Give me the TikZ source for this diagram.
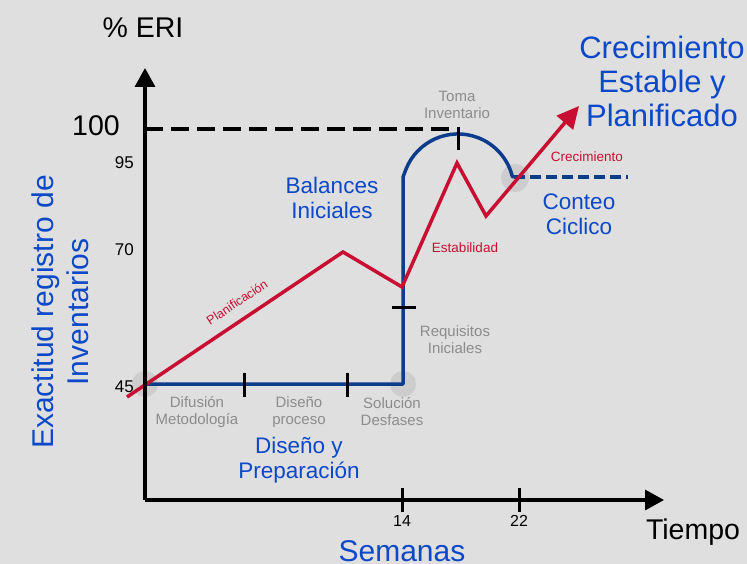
\documentclass[tikz,border=0pt]{standalone}
\usepackage{fontspec}
\setmainfont{Liberation Sans}
\usetikzlibrary{arrows.meta}
\definecolor{slidebg}{RGB}{223,223,223}
\definecolor{spot}{RGB}{205,205,205}
\definecolor{titleblue}{RGB}{12,72,200}
\definecolor{lineblue}{RGB}{14,60,140}
\definecolor{trendred}{RGB}{200,14,50}
\definecolor{notegray}{RGB}{140,140,140}
\begin{document}
\begin{tikzpicture}[x=1pt,y=-1pt,
  axis/.style={line width=3.5pt,-{Triangle[length=19pt,width=20pt]}},
  tick/.style={line width=3pt},
  note/.style={text=notegray,align=center,font=\fontsize{15}{17}\selectfont},
  phase/.style={text=titleblue,align=center,font=\fontsize{22.5}{25}\selectfont},
  trend/.style={text=trendred,font=\fontsize{13.5}{15}\selectfont},
  val/.style={anchor=east,inner sep=0pt,font=\fontsize{17}{19}\selectfont}]
  \fill[slidebg] (0,0) rectangle (747,564);
  \useasboundingbox (0,0) rectangle (747,564);

  %highlights
  \fill[spot] (145,384) circle (13pt) (403,384) circle (13pt) (515,178) circle (14pt);

  %100 line
  \draw[line width=3.5pt,dash pattern=on 18pt off 8pt] (145,129) -- (458,129);

  %blue path
  \coordinate (b45) at (145,384);
  \coordinate (b14) at (403,384);
  \coordinate (bup) at (403,177);
  \coordinate (bend) at (514,177);
  \coordinate (bdash) at (628,177);
  \draw[lineblue,line width=3.5pt,line join=round] (b45) -- (b14) -- (bup) -- (405.7,169.9)
    arc[start angle=159,end angle=14,radius=56pt] -- (bend);
  \draw[lineblue,line width=3.5pt,dash pattern=on 11pt off 5pt] (bend) -- (bdash);

  %ticks
  \draw[tick] (244,373) -- (244,397);
  \draw[tick] (347,373) -- (347,397);
  \draw[tick] (392,307) -- (416,307);
  \draw[tick] (458,127) -- (458,150);

  %red curve
  \coordinate (start) at (127,397);
  \coordinate (plan) at (343,252);
  \coordinate (req) at (402,287);
  \coordinate (toma) at (457,163);
  \coordinate (dip) at (486,216);
  \coordinate (goal) at (579,106);
  \draw[trendred,line width=3.5pt,-{Triangle[length=22pt,width=21pt]}]
    (start) -- (plan) -- (req) -- (toma) -- (dip) -- (goal);

  %axes
  \coordinate (O) at (145,500);
  \coordinate (ytop) at (145,68);
  \coordinate (xend) at (664,500);
  \draw[axis] (O) -- (ytop);
  \draw[axis] (O) -- (xend);
  \foreach \x/\w in {402/14,519/22}{
    \draw[tick] (\x,488) -- (\x,512);
    \node[font=\fontsize{16}{18}\selectfont] (w\w) at (\x,521) {\w};
  }

  \node[font=\fontsize{28.5}{30}\selectfont] (eri) at (143,28) {\% ERI};
  \node[font=\fontsize{28.5}{30}\selectfont,anchor=east,inner sep=0pt] (v100) at (120,126) {100};
  \node[val] (v95) at (134,163) {95};
  \node[val] (v70) at (134,250) {70};
  \node[val] (v45) at (134,387) {45};
  \node[font=\fontsize{28.5}{30}\selectfont] (tiempo) at (693,532) {Tiempo};
  \node[text=titleblue,font=\fontsize{30}{32}\selectfont,anchor=base] (semanas) at (402,561) {Semanas};
  \node[text=titleblue,align=center,rotate=90,font=\fontsize{30}{35}\selectfont] (ylab) at (60,312)
    {Exactitud registro de\\Inventarios};

  %phases
  \node[note] (difusion) at (197,412) {Difusión\\Metodología};
  \node[note] (diseno) at (299,412) {Diseño\\proceso};
  \node[note] (solucion) at (392,412) {Solución\\Desfases};
  \node[note] (requisitos) at (455,340) {Requisitos\\Iniciales};
  \node[note] (inventario) at (457,105) {Toma\\Inventario};

  \node[phase] (prep) at (299,460) {Diseño y\\Preparación};
  \node[phase] (balances) at (332,198) {Balances\\Iniciales};
  \node[phase] (conteo) at (579,214) {Conteo\\Ciclico};
  \node[text=titleblue,align=center,font=\fontsize{31}{34}\selectfont] (meta) at (662,81)
    {Crecimiento\\Estable y\\Planificado};

  \node[trend,rotate=33.5,font=\fontsize{12.5}{14}\selectfont] (planif) at (237,302) {Planificación};
  \node[trend] (estab) at (465,248) {Estabilidad};
  \node[trend] (crec) at (587,157) {Crecimiento};
\end{tikzpicture}
\end{document}
